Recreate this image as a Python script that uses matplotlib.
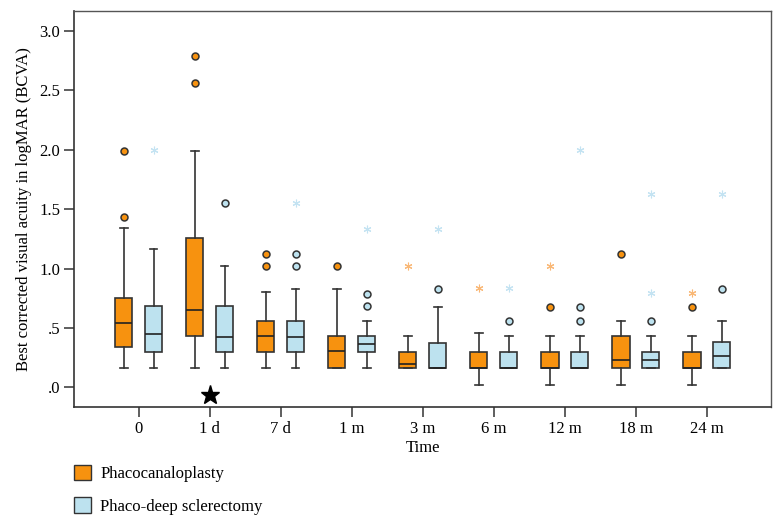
import numpy as np
import matplotlib.pyplot as plt
from matplotlib.patches import Patch

plt.rcParams['font.family'] = ['Liberation Serif', 'DejaVu Serif']

times = ['0', '1 d', '7 d', '1 m', '3 m', '6 m', '12 m', '18 m', '24 m']
groups = ['Phacocanaloplasty', 'Phaco-deep sclerectomy']

# box stats per time point: whislo, q1, med, q3, whishi
canal_lo = [0.163, 0.163, 0.163, 0.163, 0.163, 0.022, 0.022, 0.022, 0.022]
canal_q1 = [0.337, 0.432, 0.300, 0.163, 0.163, 0.163, 0.163, 0.163, 0.163]
canal_med = [0.544, 0.649, 0.435, 0.303, 0.194, 0.163, 0.163, 0.230, 0.163]
canal_q3 = [0.752, 1.258, 0.559, 0.435, 0.295, 0.295, 0.295, 0.435, 0.300]
canal_hi = [1.340, 1.990, 0.800, 0.828, 0.435, 0.460, 0.435, 0.561, 0.435]
canal_out = [[1.43, 1.99], [2.56, 2.79], [1.025, 1.126], [1.025], [], [], [0.679], [1.126], [0.679]]
canal_ext = [[], [], [], [], [1.025], [0.834], [1.025], [], [0.792]]

deep_lo = [0.163, 0.163, 0.163, 0.163, 0.163, 0.163, 0.163, 0.163, 0.163]
deep_q1 = [0.297, 0.300, 0.296, 0.297, 0.163, 0.163, 0.163, 0.163, 0.163]
deep_med = [0.446, 0.424, 0.427, 0.368, 0.163, 0.163, 0.163, 0.230, 0.264]
deep_q3 = [0.682, 0.682, 0.559, 0.435, 0.376, 0.295, 0.295, 0.300, 0.379]
deep_hi = [1.163, 1.025, 0.828, 0.559, 0.679, 0.435, 0.435, 0.435, 0.561]
deep_out = [[], [1.555], [1.025, 1.126], [0.682, 0.786], [0.831], [0.561], [0.561, 0.679], [0.561], [0.831]]
deep_ext = [[2.0], [], [1.555], [1.336], [1.336], [0.834], [2.0], [0.792, 1.626], [1.626]]

star_time = '1 d'

ORANGE = '#f7920f'
BLUE = '#bde2ef'
ORANGE_EXT = '#f9b877'
BLUE_EXT = '#c4e3f2'


def make_stats(lo, q1, med, q3, hi):
    return [dict(whislo=a, q1=b, med=c, q3=d, whishi=e, fliers=[])
            for a, b, c, d, e in zip(lo, q1, med, q3, hi)]


fig = plt.figure(figsize=(7.82, 5.23), dpi=100)
ax = fig.add_axes([0.0946, 0.2224, 0.8914, 0.7571])

x = np.arange(len(times))
off = 0.21
w = 0.245

series = [
    (make_stats(canal_lo, canal_q1, canal_med, canal_q3, canal_hi), canal_out, canal_ext,
     ORANGE, ORANGE_EXT, -off),
    (make_stats(deep_lo, deep_q1, deep_med, deep_q3, deep_hi), deep_out, deep_ext,
     BLUE, BLUE_EXT, off),
]

for stats, outs, exts, col, ecol, dx in series:
    ax.bxp(stats, positions=x + dx, widths=w, patch_artist=True, showfliers=False,
           boxprops=dict(facecolor=col, edgecolor='#333333', linewidth=1.2),
           medianprops=dict(color='#222222', linewidth=1.2),
           whiskerprops=dict(color='#333333', linewidth=1.2),
           capprops=dict(color='#333333', linewidth=1.2),
           capwidths=w * 0.45, manage_ticks=False)
    for xi, vals in zip(x + dx, outs):
        if vals:
            ax.plot([xi] * len(vals), vals, 'o', ms=5, mfc=col, mec='#333333', mew=1.1,
                    zorder=4)
    for xi, vals in zip(x + dx, exts):
        if vals:
            ax.plot([xi] * len(vals), vals, ls='none', marker=(6, 2, 0), ms=5.5,
                    color=ecol, mew=0.8, zorder=4)

ax.plot(times.index(star_time), -0.067, marker='*', ms=14, color='black',
        clip_on=False, zorder=5)

ax.set_xlim(-0.91, 8.905)
ax.set_ylim(-0.163, 3.17)
ax.set_xticks(x)
ax.set_xticklabels(times, fontsize=12)
yt = [0, 0.5, 1.0, 1.5, 2.0, 2.5, 3.0]
ax.set_yticks(yt)
ax.set_yticklabels(['.0', '.5', '1.0', '1.5', '2.0', '2.5', '3.0'], fontsize=12)
ax.tick_params(axis='both', direction='out', length=7, width=1.1, color='#333333')
ax.tick_params(axis='y', pad=3)
ax.set_xlabel('Time', fontsize=12, labelpad=2)
ax.set_ylabel('Best corrected visual acuity in logMAR (BCVA)', fontsize=12, labelpad=5)

for s in ['left', 'bottom']:
    ax.spines[s].set_color('#333333')
    ax.spines[s].set_linewidth(1.2)
for s in ['top', 'right']:
    ax.spines[s].set_color('#555555')
    ax.spines[s].set_linewidth(1.0)

handles = [Patch(facecolor=ORANGE, edgecolor='#333333', lw=1.0),
           Patch(facecolor=BLUE, edgecolor='#333333', lw=1.0)]
fig.legend(handles, groups, loc='upper left', bbox_to_anchor=(0.075, 0.14),
           bbox_transform=fig.transFigure, frameon=False, fontsize=12,
           handlelength=1.05, handleheight=1.05, handletextpad=0.55, labelspacing=0.9)

fig.savefig('out.png', dpi=100)
